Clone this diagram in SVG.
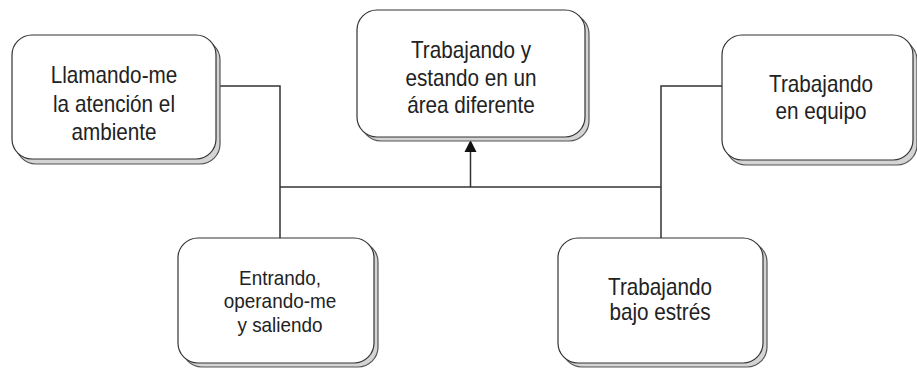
<svg xmlns="http://www.w3.org/2000/svg" width="917" height="368" viewBox="0 0 917 368">
<style>
.sh{fill:#d4d4d4;stroke:#555;stroke-width:1.2}
.bx{fill:#fff;stroke:#333;stroke-width:1.2}
.t{font-family:"Liberation Sans",Arial,sans-serif;font-size:23px;fill:#222;text-anchor:middle}
.s{font-size:21px}
.c{fill:none;stroke:#333;stroke-width:1.5}
</style>
<rect width="917" height="368" fill="#fff"/>
<g id="connectors">
<polyline class="c" points="216,86 280,86 280,238"/>
<polyline class="c" points="722,86 661,86 661,238"/>
<line class="c" x1="280" y1="187" x2="661" y2="187"/>
<line class="c" x1="470.5" y1="187" x2="470.5" y2="150"/>
<path d="M470.5,140 L476.5,152 L464.5,152 Z" fill="#111"/>
</g>
<g id="n1">
<rect class="sh" x="16" y="40" width="204" height="124" rx="20"/>
<rect class="bx" x="12" y="35" width="204" height="124" rx="20"/>
<g transform="translate(114 0) scale(0.9 1)">
<text class="t" x="0" y="83">Llamando-me</text>
<text class="t" x="0" y="112">la atención el</text>
<text class="t" x="0" y="140">ambiente</text>
</g>
</g>
<g id="n2">
<rect class="sh" x="361" y="14" width="228" height="127" rx="20"/>
<rect class="bx" x="357" y="10" width="228" height="127" rx="20"/>
<g transform="translate(471 0) scale(0.9 1)">
<text class="t" x="0" y="58">Trabajando y</text>
<text class="t" x="0" y="86">estando en un</text>
<text class="t" x="0" y="113">área diferente</text>
</g>
</g>
<g id="n3">
<rect class="sh" x="726" y="40" width="191" height="125" rx="20"/>
<rect class="bx" x="722" y="35" width="191" height="125" rx="20"/>
<g transform="translate(821 0) scale(0.9 1)">
<text class="t" x="0" y="92">Trabajando</text>
<text class="t" x="0" y="119">en equipo</text>
</g>
</g>
<g id="n4">
<rect class="sh" x="182" y="242" width="196" height="125" rx="20"/>
<rect class="bx" x="178" y="238" width="196" height="125" rx="20"/>
<g transform="translate(280 0) scale(0.9 1)">
<text class="t s" x="0" y="285">Entrando,</text>
<text class="t s" x="0" y="308">operando-me</text>
<text class="t s" x="0" y="332">y saliendo</text>
</g>
</g>
<g id="n5">
<rect class="sh" x="562" y="242" width="205" height="125" rx="20"/>
<rect class="bx" x="558" y="238" width="205" height="125" rx="20"/>
<g transform="translate(660 0) scale(0.9 1)">
<text class="t" x="0" y="295">Trabajando</text>
<text class="t" x="0" y="320">bajo estrés</text>
</g>
</g>
</svg>
